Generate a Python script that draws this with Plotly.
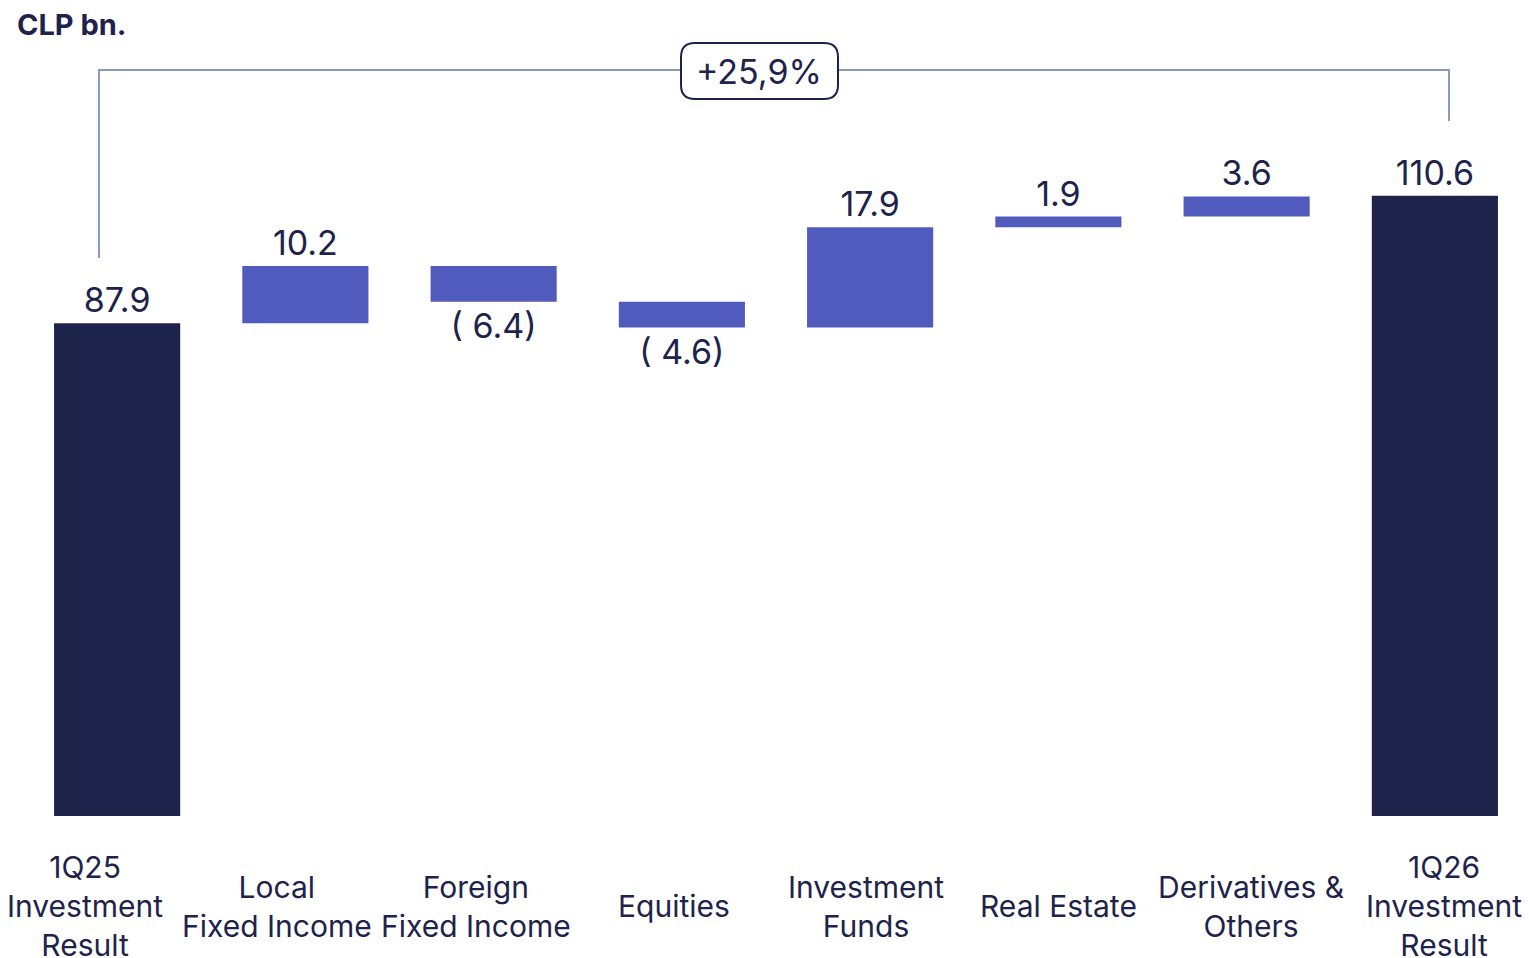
import plotly.graph_objects as go

categories = ["1Q25 Investment Result", "Local Fixed Income", "Foreign Fixed Income",
              "Equities", "Investment Funds", "Real Estate", "Derivatives & Others",
              "1Q26 Investment Result"]
tick_labels = ["1Q25<br>Investment<br>Result", "Local<br>Fixed Income", "Foreign<br>Fixed Income",
               "Equities", "Investment<br>Funds", "Real Estate", "Derivatives &<br>Others",
               "1Q26<br>Investment<br>Result"]
values = [87.9, 10.2, -6.4, -4.6, 17.9, 1.9, 3.6, 110.6]
measures = ["absolute", "relative", "relative", "relative", "relative", "relative", "relative", "absolute"]
value_labels = ["87.9", "10.2", "( 6.4)", "( 4.6)", "17.9", "1.9", "3.6", "110.6"]
growth_label = "+25,9%"
unit_label = "CLP bn."

NAVY = "#1E234C"
BLUE = "#505BBD"
LINE = "#8A9BB8"
FONT = "Inter"

fig = go.Figure(go.Waterfall(
    x=categories,
    y=values,
    measure=measures,
    text=value_labels,
    textinfo="text",
    textposition="outside",
    textfont=dict(family=FONT, size=34, color=NAVY),
    increasing=dict(marker=dict(color=BLUE)),
    decreasing=dict(marker=dict(color=BLUE)),
    totals=dict(marker=dict(color=NAVY)),
    connector=dict(visible=False),
    cliponaxis=False,
    hoverinfo="skip",
))

W, H = 1529, 958
ml, mr, mt, mb = 23, 0, 31, 142
pw, ph = W - ml - mr, H - mt - mb

def px(x):
    return (x - ml) / pw

def py(y):
    return (H - mb - y) / ph

# category label offsets (pixels)
xshifts = [-32, -28, -18, -8, -4, 0, 4, 9]
annotations = []
for cat, lab, xs in zip(categories, tick_labels, xshifts):
    annotations.append(dict(
        x=cat, xref="x", y=0, yref="paper", yshift=-90, xshift=xs,
        text=lab, showarrow=False, xanchor="center", yanchor="middle",
        font=dict(family=FONT, size=30, color=NAVY), align="center",
    ))

annotations.append(dict(
    x=0, xref="paper", xshift=-8, y=py(24), yref="paper",
    text="<b>" + unit_label + "</b>", showarrow=False, xanchor="left", yanchor="middle",
    font=dict(family=FONT, size=29, color=NAVY),
))
annotations.append(dict(
    x=px(759), xref="paper", y=py(71), yref="paper",
    text=growth_label, showarrow=False, xanchor="center", yanchor="middle",
    font=dict(family=FONT, size=34, color=NAVY),
))

# bracket
bx0, bx1 = px(99), px(1449)
by_left, by_top, by_right = py(258), py(70), py(121)
bracket = f"M {bx0},{by_left} L {bx0},{by_top} L {bx1},{by_top} L {bx1},{by_right}"

# rounded box
x0, x1 = px(681), px(838)
y0, y1 = py(99), py(43)
rx, ry = 14 / pw, 14 / ph
box = (f"M {x0+rx},{y1} L {x1-rx},{y1} Q {x1},{y1} {x1},{y1-ry} "
       f"L {x1},{y0+ry} Q {x1},{y0} {x1-rx},{y0} "
       f"L {x0+rx},{y0} Q {x0},{y0} {x0},{y0+ry} "
       f"L {x0},{y1-ry} Q {x0},{y1} {x0+rx},{y1} Z")

shapes = [
    dict(type="path", path=bracket, xref="paper", yref="paper",
         line=dict(color=LINE, width=2)),
    dict(type="path", path=box, xref="paper", yref="paper",
         line=dict(color=NAVY, width=2), fillcolor="white"),
]

fig.update_layout(
    width=W, height=H,
    margin=dict(l=ml, r=mr, t=mt, b=mb),
    plot_bgcolor="white", paper_bgcolor="white",
    showlegend=False,
    waterfallgap=0.33,
    xaxis=dict(range=[-0.5, 7.5], showticklabels=False, showgrid=False, zeroline=False,
               showline=False, ticks=""),
    yaxis=dict(range=[0, 140], visible=False, showgrid=False, zeroline=False),
    annotations=annotations,
    shapes=shapes,
)

fig.write_html("out.html",
               config={"displayModeBar": False},
               post_script="document.body.style.margin='0';document.body.style.overflow='hidden';")
